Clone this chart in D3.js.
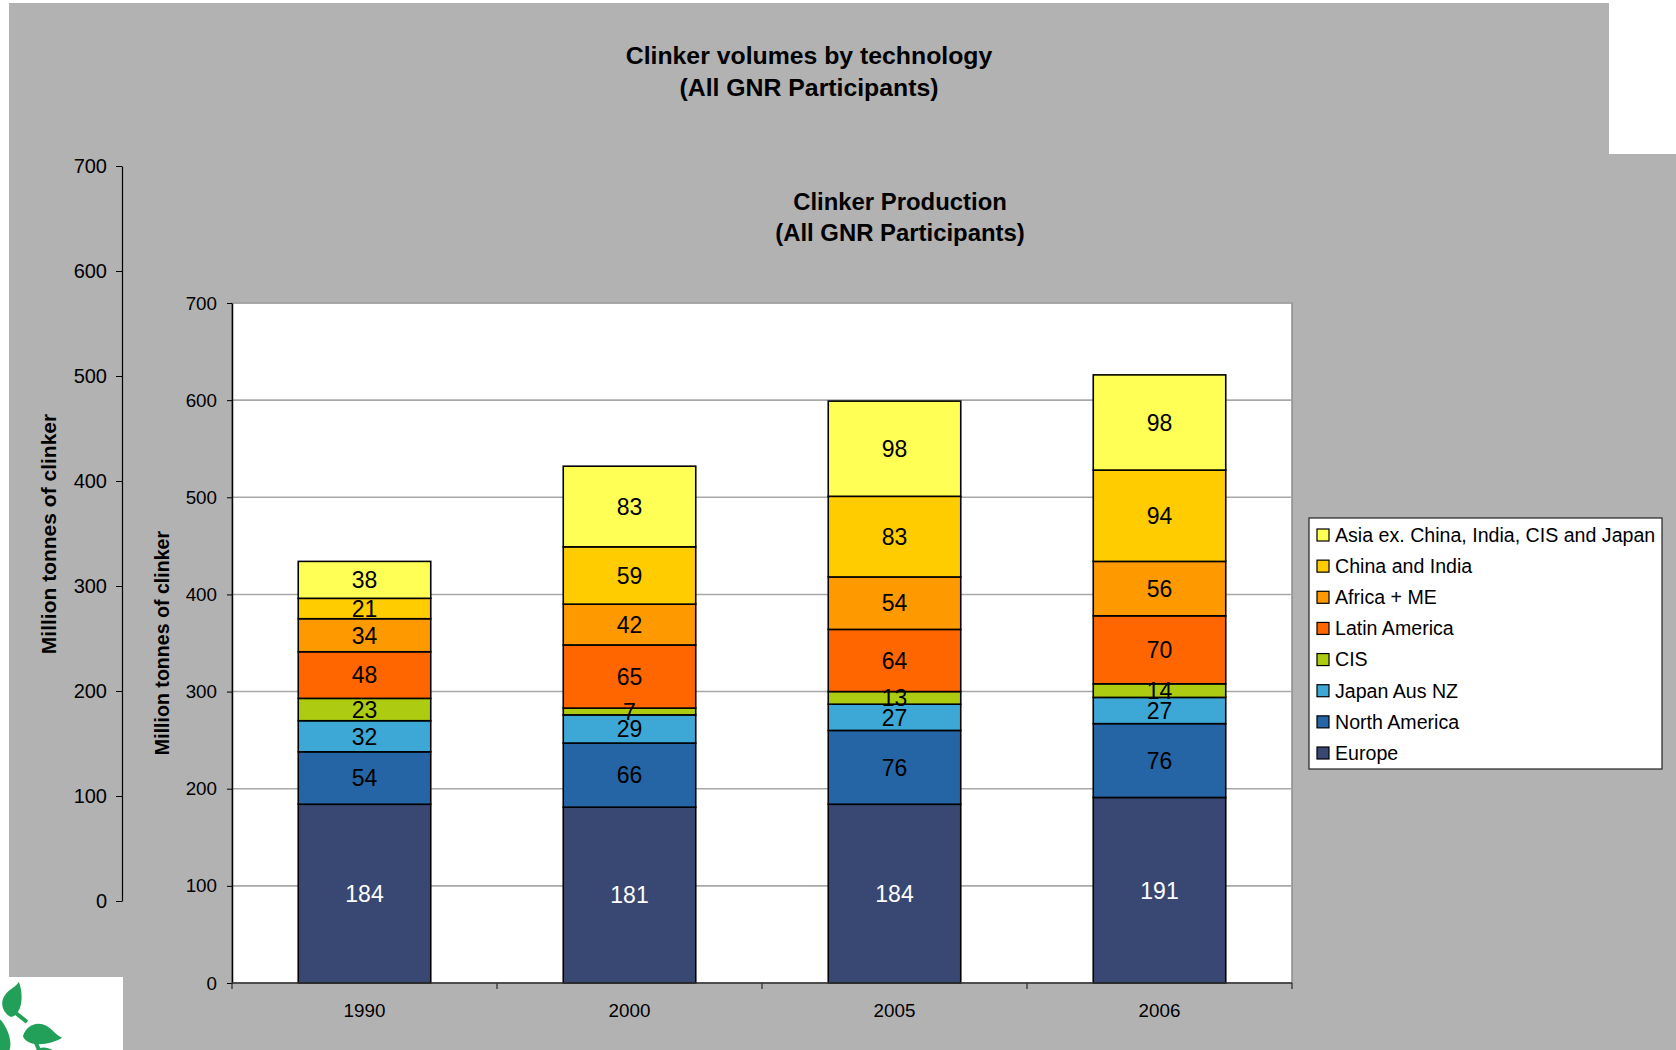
<!DOCTYPE html>
<html>
<head>
<meta charset="utf-8">
<script src="https://cdn.jsdelivr.net/npm/d3@7"></script>
<style>
  body { margin: 0; background: #ffffff; }
  svg { display: block; }
  text { font-family: "Liberation Sans", Arial, Helvetica, sans-serif; }
</style>
</head>
<body>
<svg id="chart" width="1676" height="1050"></svg>
<script>
// Clinker production by region, million tonnes
const years = ["1990", "2000", "2005", "2006"];
const regions = [
  "Europe", "North America", "Japan Aus NZ", "CIS",
  "Latin America", "Africa + ME", "China and India",
  "Asia ex. China, India, CIS and Japan"
];
const europe       = [184, 181, 184, 191];
const northAmerica = [54, 66, 76, 76];
const japanAusNZ   = [32, 29, 27, 27];
const cis          = [23, 7, 13, 14];
const latinAmerica = [48, 65, 64, 70];
const africaME     = [34, 42, 54, 56];
const chinaIndia   = [21, 59, 83, 94];
const asiaOther    = [38, 83, 98, 98];
const yTicks = [0, 100, 200, 300, 400, 500, 600, 700];

const regionColors = ["#394873", "#2665A5", "#3DA8D6", "#ADCC11",
                      "#FF6600", "#FF9900", "#FFCC00", "#FFFF55"];

const seriesValues = [europe, northAmerica, japanAusNZ, cis,
                      latinAmerica, africaME, chinaIndia, asiaOther];
const table = years.map((yr, i) => {
  const row = { year: yr };
  regions.forEach((r, k) => { row[r] = seriesValues[k][i]; });
  return row;
});

const svg = d3.select("#chart");
const GRAY = "#B2B2B2";

// ---- background panels ----
svg.append("rect").attr("x", 9).attr("y", 3).attr("width", 1600).attr("height", 1000).attr("fill", GRAY);
svg.append("rect").attr("x", 123).attr("y", 154).attr("width", 1553).attr("height", 896).attr("fill", GRAY);
svg.append("rect").attr("x", 0).attr("y", 977).attr("width", 123).attr("height", 73).attr("fill", "#ffffff");

// small leaf emblem in the lower-left corner
const emblem = svg.append("g");
emblem.append("g").attr("stroke", "#22A05A").attr("stroke-width", 4).attr("fill", "none")
  .selectAll("line")
  .data([[12, 1010, 27, 1022], [33, 1036, 39, 1050]])
  .join("line")
  .attr("x1", d => d[0]).attr("y1", d => d[1]).attr("x2", d => d[2]).attr("y2", d => d[3]);
const leafG = emblem.append("g").attr("fill", "#22A05A");
const leaf = "M0,0 C-10,-6 -14,-20 -4,-30 C2,-36 10,-38 14,-44 C18,-30 16,-12 8,-4 C5,-1 3,0 0,0 Z";
leafG.append("path").attr("d", leaf).attr("transform", "translate(11,1017) rotate(-5) scale(0.78)");
leafG.append("path").attr("d", leaf).attr("transform", "translate(23,1036) rotate(75) scale(0.85)");
leafG.append("path").attr("d", leaf).attr("transform", "translate(5,1056) rotate(-25) scale(0.8)");
leafG.append("path").attr("d", leaf).attr("transform", "translate(30,1062) rotate(60) scale(0.75)");

// ---- outer chart: title and axis ----
const outerTitle = svg.append("text").attr("text-anchor", "middle")
  .attr("font-weight", "bold").attr("font-size", 24.8).attr("fill", "#000");
outerTitle.append("tspan").attr("x", 809).attr("y", 64).text("Clinker volumes by technology");
outerTitle.append("tspan").attr("x", 809).attr("y", 96).text("(All GNR Participants)");

const yOuter = d3.scaleLinear().domain([0, 700]).range([901, 166]);
const outerAxis = svg.append("g").attr("transform", "translate(122,0)")
  .call(d3.axisLeft(yOuter).tickValues(yTicks).tickSize(6).tickPadding(9).tickSizeOuter(0));
outerAxis.select(".domain").attr("stroke", "#000").attr("stroke-width", 1.2);
outerAxis.selectAll(".tick line").attr("stroke", "#000");
outerAxis.selectAll("text").attr("font-size", 20).attr("fill", "#000").attr("font-family", "Liberation Sans, Arial, sans-serif");

svg.append("text")
  .attr("transform", "translate(56,534) rotate(-90)")
  .attr("text-anchor", "middle").attr("font-weight", "bold").attr("font-size", 21)
  .text("Million tonnes of clinker");

// ---- inner chart ----
const plot = { left: 232, right: 1292, top: 303, bottom: 983 };

const innerTitle = svg.append("text").attr("text-anchor", "middle")
  .attr("font-weight", "bold").attr("font-size", 23.9).attr("fill", "#000");
innerTitle.append("tspan").attr("x", 900).attr("y", 210).text("Clinker Production");
innerTitle.append("tspan").attr("x", 900).attr("y", 241).text("(All GNR Participants)");

const x = d3.scaleBand().domain(years).range([plot.left, plot.right])
  .paddingInner(0.5).paddingOuter(0.25);
const y = d3.scaleLinear().domain([0, 700]).range([plot.bottom, plot.top]);

// plot area
svg.append("rect")
  .attr("x", plot.left).attr("y", plot.top)
  .attr("width", plot.right - plot.left).attr("height", plot.bottom - plot.top)
  .attr("fill", "#ffffff").attr("stroke", "#8c8c8c").attr("stroke-width", 1.5);

// gridlines
svg.append("g").selectAll("line")
  .data(yTicks.filter(v => v > 0))
  .join("line")
  .attr("x1", plot.left).attr("x2", plot.right)
  .attr("y1", d => y(d)).attr("y2", d => y(d))
  .attr("stroke", "#A8A8A8").attr("stroke-width", 1.6);

// stacked bars
const stacked = d3.stack().keys(regions)(table);
const layers = svg.append("g").selectAll("g")
  .data(stacked)
  .join("g")
  .attr("fill", (d, i) => regionColors[i]);

layers.selectAll("rect")
  .data(d => d)
  .join("rect")
  .attr("x", d => x(d.data.year))
  .attr("width", x.bandwidth())
  .attr("y", d => y(d[1]))
  .attr("height", d => y(d[0]) - y(d[1]))
  .attr("stroke", "#000").attr("stroke-width", 1.6);

// value labels
const labelG = svg.append("g").attr("text-anchor", "middle").attr("font-size", 23);
stacked.forEach((layer, i) => {
  labelG.selectAll(null)
    .data(layer)
    .join("text")
    .attr("x", d => x(d.data.year) + x.bandwidth() / 2)
    .attr("y", d => (y(d[0]) + y(d[1])) / 2)
    .attr("dy", "0.36em")
    .attr("fill", i === 0 ? "#ffffff" : "#000000")
    .text(d => d[1] - d[0]);
});

// y axis
const yAxis = svg.append("g").attr("transform", `translate(${plot.left},0)`)
  .call(d3.axisLeft(y).tickValues(yTicks).tickSize(5).tickPadding(10).tickSizeOuter(0));
yAxis.select(".domain").attr("stroke", "#000").attr("stroke-width", 1.5);
yAxis.selectAll(".tick line").attr("stroke", "#000");
yAxis.selectAll("text").attr("font-size", 18.8).attr("fill", "#000").attr("font-family", "Liberation Sans, Arial, sans-serif");

// x axis: labels centred under bars, ticks at category boundaries
const xAxis = svg.append("g").attr("transform", `translate(0,${plot.bottom})`)
  .call(d3.axisBottom(x).tickSize(0).tickPadding(21).tickSizeOuter(0));
xAxis.select(".domain").remove();
xAxis.selectAll("text").attr("font-size", 18.8).attr("fill", "#000").attr("font-family", "Liberation Sans, Arial, sans-serif");

const halfGap = (x.step() - x.bandwidth()) / 2;
const boundaries = years.map(yr => x(yr) - halfGap).concat([x(years[years.length - 1]) + x.bandwidth() + halfGap]);
svg.append("line")
  .attr("x1", plot.left).attr("x2", plot.right)
  .attr("y1", plot.bottom).attr("y2", plot.bottom)
  .attr("stroke", "#333").attr("stroke-width", 1.6);
svg.append("g").selectAll("line")
  .data(boundaries)
  .join("line")
  .attr("x1", d => d).attr("x2", d => d)
  .attr("y1", plot.bottom).attr("y2", plot.bottom + 6)
  .attr("stroke", "#333").attr("stroke-width", 1.3);

svg.append("text")
  .attr("transform", "translate(169,643) rotate(-90)")
  .attr("text-anchor", "middle").attr("font-weight", "bold").attr("font-size", 19.6)
  .text("Million tonnes of clinker");

// legend (top of stack listed first)
const legend = svg.append("g");
legend.append("rect")
  .attr("x", 1309).attr("y", 518).attr("width", 353).attr("height", 251)
  .attr("fill", "#ffffff").attr("stroke", "#222").attr("stroke-width", 1.2);
const legendOrder = regions.map((r, i) => ({ name: r, color: regionColors[i] })).reverse();
const rowY = d3.scalePoint().domain(legendOrder.map(d => d.name)).range([535, 753]);
const items = legend.selectAll("g.item").data(legendOrder).join("g").attr("class", "item");
items.append("rect")
  .attr("x", 1317).attr("y", d => rowY(d.name) - 6)
  .attr("width", 12).attr("height", 12)
  .attr("fill", d => d.color).attr("stroke", "#000").attr("stroke-width", 1.2);
items.append("text")
  .attr("x", 1335).attr("y", d => rowY(d.name)).attr("dy", "0.35em")
  .attr("font-size", 19.6).attr("fill", "#000")
  .text(d => d.name);
</script>
</body>
</html>
